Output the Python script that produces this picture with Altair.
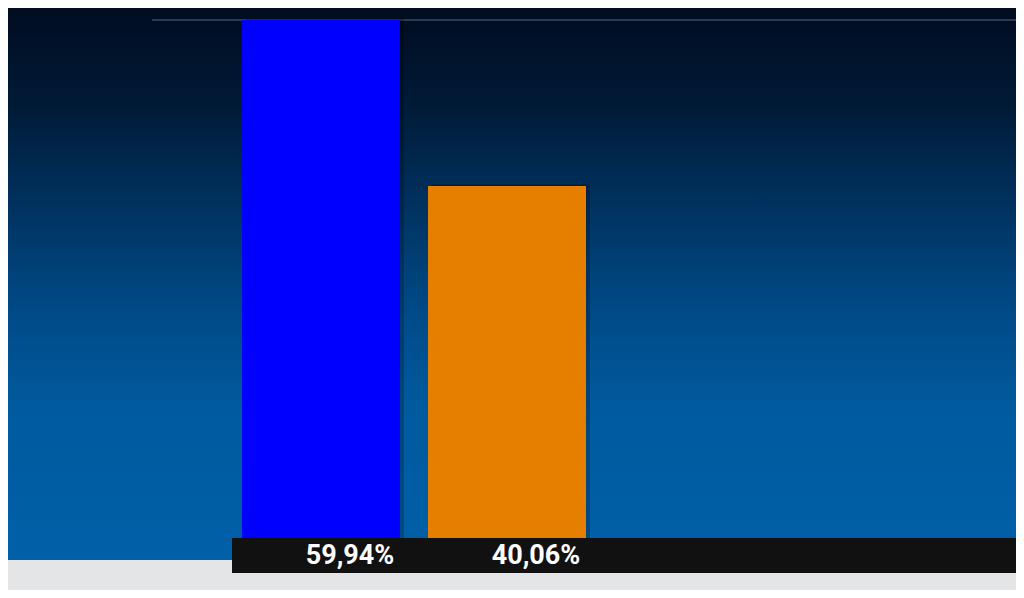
import altair as alt
import pandas as pd

categories = ["Kandidat A", "Kandidat B"]
values = [59.94, 40.06]
labels = ["59,94%", "40,06%"]
colors = ["#0000ff", "#e67e00"]
BASE = -2.1
bases = [BASE, BASE]

df = pd.DataFrame({"cat": categories, "value": values, "base": bases, "label": labels, "color": colors})
one = pd.DataFrame({"k": [0]})

W, H = 1008, 582
yscale = alt.Scale(domain=[BASE, 59.94], range=[530, 12], zero=False, nice=False)
xscale = alt.Scale(domain=categories, range=[234, 578], paddingInner=0.1505, paddingOuter=0)

grad = alt.LinearGradient(
    gradient="linear",
    stops=[
        alt.GradientStop(offset=0.0, color="#010c20"),
        alt.GradientStop(offset=0.17, color="#001a36"),
        alt.GradientStop(offset=0.35, color="#00315e"),
        alt.GradientStop(offset=0.53, color="#004884"),
        alt.GradientStop(offset=0.72, color="#005a9e"),
        alt.GradientStop(offset=1.0, color="#0060a8"),
    ],
    x1=0, x2=0, y1=0, y2=1,
)

bg = alt.Chart(one).mark_rect(fill=grad).encode(
    x=alt.value(0), x2=alt.value(W), y=alt.value(0), y2=alt.value(552)
)

topline = alt.Chart(one).mark_rule(color="#3a4862", strokeWidth=1.5).encode(
    x=alt.value(144), x2=alt.value(W), y=alt.value(12)
)

shadow = alt.Chart(df).mark_bar(color="black", opacity=0.22, xOffset=4, yOffset=-2).encode(
    x=alt.X("cat:N", scale=xscale, axis=None),
    y=alt.Y("value:Q", scale=yscale, axis=None),
    y2=alt.Y2("base:Q"),
)

bars = alt.Chart(df).mark_bar().encode(
    x=alt.X("cat:N", scale=xscale, axis=None),
    y=alt.Y("value:Q", scale=yscale, axis=None),
    y2=alt.Y2("base:Q"),
    color=alt.Color("color:N", scale=None, legend=None),
)

band = alt.Chart(one).mark_rect(color="#111111").encode(
    x=alt.value(224), x2=alt.value(W), y=alt.value(530), y2=alt.value(565)
)

text = alt.Chart(df).mark_text(
    font="Roboto", fontSize=27, fontWeight="bold", color="white", dx=29, baseline="middle"
).encode(
    x=alt.X("cat:N", scale=xscale, axis=None),
    y=alt.value(548),
    text="label:N",
)

chart = alt.layer(bg, topline, shadow, bars, band, text).properties(
    width=W, height=H,
    autosize=alt.AutoSizeParams(type="none"),
    padding=0,
    background="#e4e5e7",
).configure_view(stroke=None)

chart.save("out.html", embed_options={"renderer": "svg", "actions": False})
